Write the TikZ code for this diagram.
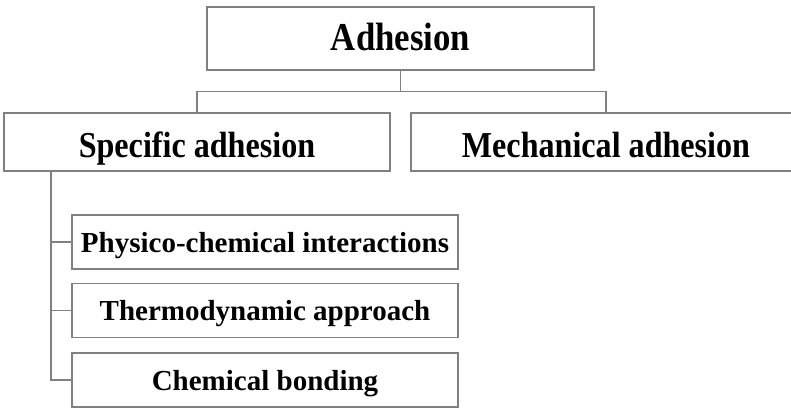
\documentclass[tikz,border=0pt]{standalone}
\usepackage{fontspec}
\setmainfont{Liberation Serif}
\newfontfamily\headfont{Liberation Serif}[FakeStretch=0.88]
\usetikzlibrary{positioning}

\tikzset{
	box/.style = {draw = gray, line width = 1.2pt, inner sep = 0pt, font = \bfseries},
	topbox/.style = {box, text height = 25pt, text depth = 2pt, font = \headfont\bfseries\fontsize{39.5}{40}\selectfont},
	midbox/.style = {box, minimum height = 58, text height = 30pt, text depth = 0pt, font = \headfont\bfseries\fontsize{36.5}{37}\selectfont},
	kidbox/.style = {box, minimum width = 386, minimum height = 54, text height = 22pt, text depth = 2pt, font = \bfseries\fontsize{29}{30}\selectfont},
	link/.style = {draw = gray, line width = 1.2pt}
}

\begin{document}
\begin{tikzpicture}[x = 1pt, y = -1pt]
	%	page frame
	\useasboundingbox (0, 0) rectangle (791, 415);
	
	%	top level
	\node[topbox, minimum width = 387, minimum height = 63] (adh) at (400.5, 38.5) {Adhesion};
	
	%	second level (the right box runs past the page edge)
	\node[midbox, minimum width = 386] (spec) at (197, 142) {Specific adhesion};
	\node[midbox, minimum width = 390] (mech) at (606, 142) {Mechanical adhesion};
	
	%	specific adhesion branches
	\node[kidbox] (phys) at (265, 242) {Physico-chemical interactions};
	\node[kidbox] (thermo) at (265, 310.5) {Thermodynamic approach};
	\node[kidbox] (chem) at (265, 380) {Chemical bonding};
	
	%	tree lines
	\draw[link] (adh.south) -- ++(0, 21) coordinate (bar);
	\draw[link] (spec.north) |- (bar) -| (mech.north);
	
	\coordinate (trunk) at ([xshift = -146pt]spec.south);
	\draw[link] (trunk) |- (chem.west);
	\draw[link] (trunk |- phys.west) -- (phys.west);
	\draw[link] (trunk |- thermo.west) -- (thermo.west);
\end{tikzpicture}
\end{document}
